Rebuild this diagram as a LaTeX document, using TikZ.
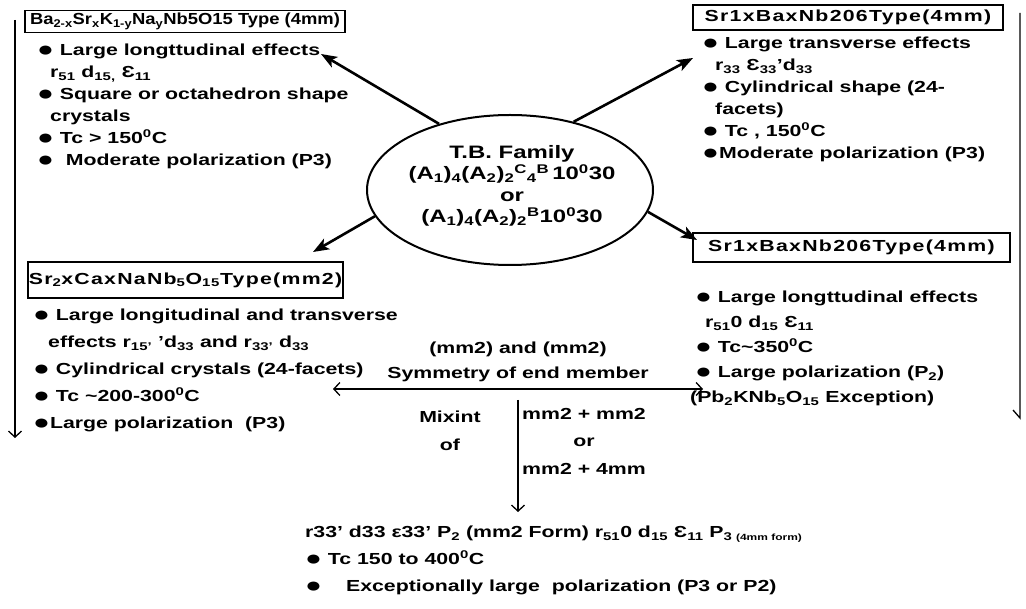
\documentclass[tikz,border=0pt]{standalone}
\usepackage{fontspec}
\setmainfont{Liberation Sans}[FakeStretch=1.33]
\newfontfamily\titlefont{Liberation Sans}[FakeStretch=1.15]
\newfontfamily\widefont{Liberation Sans}[FakeStretch=1.33,LetterSpace=8]
\usetikzlibrary{arrows.meta,shapes.geometric}

\newcommand{\bul}{\raisebox{-1pt}{\fontsize{21}{21}\selectfont ●}}
\newcommand{\ind}{\hspace*{13pt}}

\tikzset{
  txt/.style     ={inner sep=0pt, anchor=north west, align=left},
  titlebox/.style={draw, line width=1.6pt, inner sep=0pt,
                   font=\widefont\fontsize{16}{18}\selectfont\bfseries},
  bigarrow/.style={line width=2.6pt, -{Stealth[length=16pt,width=12pt,inset=4pt]}},
  thinarrow/.style={line width=1.3pt, -{Straight Barb[length=6pt,width=13pt]}},
  dblarrow/.style={line width=1.3pt,
                   {Straight Barb[length=6pt,width=13pt]}-{Straight Barb[length=6pt,width=13pt]}}
}

\begin{document}
\begin{tikzpicture}[x=1pt,y=-1pt]
    \useasboundingbox (0,0) rectangle (1026,609);

    % side lines
    \coordinate (leftTop)  at (15,20);
    \coordinate (leftBot)  at (15,438);
    \coordinate (rightTop) at (1020,13);
    \coordinate (rightBot) at (1020,418);
    \draw [thinarrow] (leftTop) -- (leftBot);
    \draw [line width=1.3pt] (rightTop) -- (rightBot) -- ++(-7,-8);

    % centre family
    \node [draw, ellipse, line width=2pt, inner sep=0pt,
           minimum width=286pt, minimum height=150pt] (tbFam) at (510,190) {};
    \node [align=center, inner sep=0pt, font=\fontsize{18}{21.5}\selectfont\bfseries]
      (tbText) at (512,186)
      {T.B. Family\\
       (A\textsubscript{1})\textsubscript{4}(A\textsubscript{2})\textsubscript{2}\textsuperscript{C}\textsubscript{4}\textsuperscript{B}\,10\textsuperscript{0}30\\
       or\\
       (A\textsubscript{1})\textsubscript{4}(A\textsubscript{2})\textsubscript{2}\textsuperscript{B}10\textsuperscript{0}30};

    % four type boxes
    \node [titlebox, minimum width=320pt, minimum height=22pt,
           font=\titlefont\fontsize{16}{18}\selectfont\bfseries] (baBox) at (185,21.5)
      {Ba\textsubscript{2-x}Sr\textsubscript{x}K\textsubscript{1-y}Na\textsubscript{y}Nb5O15 Type (4mm)};
    \node [titlebox, minimum width=310pt, minimum height=25pt] (srBox) at (848,17.5)
      {Sr1xBaxNb206Type(4mm)};
    \node [titlebox, minimum width=315pt, minimum height=36pt] (caBox) at (185.5,280)
      {Sr\textsubscript{2}xCaxNaNb\textsubscript{5}O\textsubscript{15}Type(mm2)};
    \node [titlebox, minimum width=317pt, minimum height=29pt] (srBoxB) at (851.5,247.5)
      {Sr1xBaxNb206Type(4mm)};

    % arrows out of the family
    \coordinate (baTip)  at (321,54);
    \coordinate (srTip)  at (693,58);
    \coordinate (caTip)  at (313,252);
    \coordinate (srTipB) at (697,240);
    \draw [bigarrow] (tbFam.137) -- (baTip);
    \draw [bigarrow] (tbFam.47)  -- (srTip);
    \draw [bigarrow] (tbFam.191) -- (caTip);
    \draw [bigarrow] (tbFam.351) -- (srTipB);

    % property lists
    \node [txt, font=\fontsize{16}{22}\selectfont\bfseries] (baList) at (37,44)
      {\bul\ Large longttudinal effects\\
       \ind r\textsubscript{51} d\textsubscript{15,} Ɛ\textsubscript{11}\\
       \bul\ Square or octahedron shape\\
       \ind crystals\\
       \bul\ Tc > 150\textsuperscript{0}C\\
       \bul\ \ Moderate polarization (P3)};
    \node [txt, font=\fontsize{16}{22}\selectfont\bfseries] (srList) at (702,37)
      {\bul\ Large transverse effects\\
       \ind r\textsubscript{33} Ɛ\textsubscript{33}'d\textsubscript{33}\\
       \bul\ Cylindrical shape (24-\\
       \ind facets)\\
       \bul\ Tc , 150\textsuperscript{0}C\\
       \bul Moderate polarization (P3)};
    \node [txt, font=\fontsize{16}{27}\selectfont\bfseries] (caList) at (33,309)
      {\bul\ Large longitudinal and transverse\\
       \hspace*{15pt}effects r\textsubscript{15'} 'd\textsubscript{33} and r\textsubscript{33'} d\textsubscript{33}\\
       \bul\ Cylindrical crystals (24-facets)\\
       \bul\ Tc \textasciitilde200-300\textsuperscript{0}C\\
       \bul Large polarization\ \ (P3)};
    \node [txt, font=\fontsize{16}{25}\selectfont\bfseries] (srListB) at (695,291)
      {\bul\ Large longttudinal effects\\
       \hspace*{10pt}r\textsubscript{51}0 d\textsubscript{15} Ɛ\textsubscript{11}\\
       \bul\ Tc\textasciitilde350\textsuperscript{0}C\\
       \bul\ Large polarization (P\textsubscript{2})\\
       \hspace*{-5pt}(Pb\textsubscript{2}KNb\textsubscript{5}O\textsubscript{15} Exception)};

    % mixing of end members
    \node [align=center, inner sep=0pt, font=\fontsize{16}{25}\selectfont\bfseries]
      (symTxt) at (518,362) {(mm2) and (mm2)\\Symmetry of end member};
    \coordinate (symL) at (333,389);
    \coordinate (symR) at (703,389);
    \draw [dblarrow] (symL) -- (symR);
    \node [align=center, inner sep=0pt, font=\fontsize{16}{28}\selectfont\bfseries]
      (mixTxt) at (450,431) {Mixint\\of};
    \node [align=center, inner sep=0pt, font=\fontsize{16}{27.5}\selectfont\bfseries]
      (mixOpt) at (584,441) {mm2 + mm2\\or\\mm2 + 4mm};
    \coordinate (mixTop) at (518,400);
    \coordinate (mixBot) at (518,512);
    \draw [thinarrow] (mixTop) -- (mixBot);

    % result
    \node [txt, font=\fontsize{16}{27}\selectfont\bfseries] (resList) at (305,526)
      {r33' d33 ε33' P\textsubscript{2} (mm2 Form) r\textsubscript{51}0 d\textsubscript{15} Ɛ\textsubscript{11} P\textsubscript{3 {\fontsize{9}{9}\selectfont (4mm form)}}\\
       \bul\ Tc 150 to 400\textsuperscript{0}C\\
       \bul\hspace*{24pt}Exceptionally large\ \ polarization (P3 or P2)};
\end{tikzpicture}
\end{document}
